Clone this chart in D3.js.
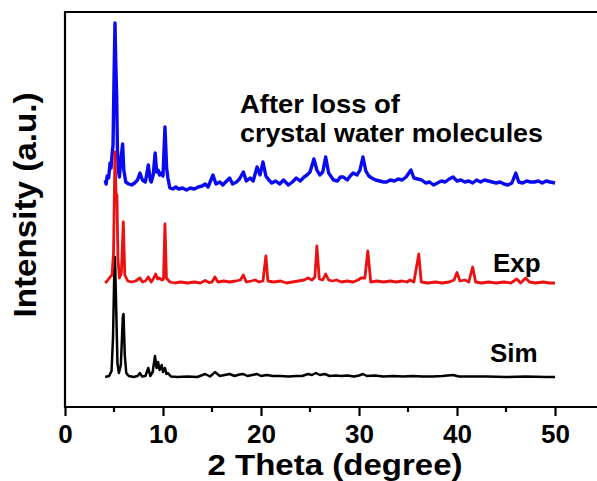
<!DOCTYPE html>
<html>
<head>
<meta charset="utf-8">
<script src="https://cdn.jsdelivr.net/npm/d3@7"></script>
<style>
  body { margin: 0; background: #fff; }
  text { font-family: Arial, "Liberation Sans", sans-serif; font-weight: bold; fill: #000; }
</style>
</head>
<body>
<div class="chart"></div>
<script>
// XRD patterns, [2theta, intensity] (a.u., baseline = 0)
var simData = [[4.1,0],[4.5,1],[4.75,6],[4.9,40],[5.05,115],[5.1,120],[5.2,80],[5.35,14],[5.5,4],[5.7,12],[5.9,60],[5.97,63],[6.1,22],[6.25,4],[6.5,1],[7.0,0],[7.4,1],[7.65,4],[7.85,0.5],[8.2,1],[8.5,9],[8.7,1],[8.95,5],[9.18,21],[9.35,9],[9.5,15],[9.65,7],[9.87,12],[10.0,5],[10.2,9],[10.35,3],[10.5,4],[10.8,0.5],[11.5,0],[12.5,0.5],[13.5,0],[14.3,3],[14.8,0.5],[15.1,3],[15.3,5],[15.8,1],[16.3,2],[16.8,3],[17.3,1],[17.8,2.5],[18.2,3],[18.6,1],[19.1,2],[19.6,3],[20.0,1],[20.6,2],[21.2,1],[22.0,1],[22.8,0.5],[23.6,1],[24.2,1],[24.8,3],[25.2,2],[25.6,4],[26.0,2],[26.5,3],[27.0,1],[27.6,1.5],[28.2,1],[28.8,1.5],[29.5,0.5],[30.0,1.5],[30.4,3],[30.8,1],[31.6,1.5],[32.5,0.5],[33.5,1],[34.5,0.5],[35.5,1],[36.5,0.5],[37.5,0.5],[38.5,1],[39.6,2],[40.2,0.5],[41.5,0.5],[43,0.5],[45,0],[47,0.5],[49,0],[50,0]];

var expData = [[4.1,0],[4.3,2],[4.6,6],[4.8,8],[4.95,30],[5.1,131],[5.2,90],[5.3,88],[5.4,25],[5.55,5],[5.75,10],[5.95,61],[6.1,8],[6.4,2],[6.8,1],[7.2,2],[7.65,5],[7.9,1],[8.2,2],[8.5,6],[8.8,1],[9.0,4],[9.25,9],[9.45,4],[9.6,5],[9.9,3],[10.05,4],[10.2,59],[10.35,5],[10.7,1],[11.2,0],[11.8,1],[12.5,0],[13.2,1],[13.8,0],[14.3,2.5],[14.7,0.5],[15.0,1],[15.3,6],[15.6,1],[16.2,2],[16.8,1],[17.4,2],[17.9,3],[18.2,8],[18.5,1],[19.0,2],[19.4,3],[19.8,1],[20.2,2],[20.5,27],[20.7,2],[21.3,1],[22.0,2],[22.6,0],[23.2,1],[23.8,2],[24.4,3],[24.8,5],[25.2,3],[25.5,6],[25.7,37],[25.95,4],[26.3,3],[26.6,9],[26.9,3],[27.3,2],[27.7,3],[28.2,1],[28.8,2],[29.4,1],[29.9,3],[30.2,5],[30.6,5],[30.9,32],[31.2,1],[31.8,2],[32.5,1],[33.2,2],[33.8,1],[34.4,2],[34.9,1],[35.2,3],[35.6,1],[36.1,29],[36.35,1],[37.0,0],[37.8,1],[38.5,0],[39.2,1],[39.7,3],[40.0,10.5],[40.3,2],[40.8,3],[41.2,1],[41.6,16],[41.9,1],[42.5,0],[43.2,1],[44.0,0],[44.8,1],[45.5,0],[46.1,4],[46.5,0],[47.0,5],[47.4,1],[48.0,0],[48.8,1],[49.4,0],[50.0,0]];

var afterData = [[4.1,10],[4.2,6],[4.3,14],[4.45,12],[4.6,27],[4.7,22],[4.8,35],[4.9,45],[5.0,110],[5.1,167],[5.2,120],[5.27,95],[5.35,40],[5.45,20],[5.55,13],[5.7,30],[5.88,46],[6.0,20],[6.2,8],[6.5,6],[6.8,5],[7.1,7],[7.4,10],[7.65,17],[7.9,10],[8.2,8],[8.5,25],[8.7,10],[8.8,8],[9.0,15],[9.2,37],[9.35,18],[9.5,20],[9.65,15],[9.8,17],[10.0,14],[10.2,63],[10.37,22],[10.5,12],[10.7,2],[11.0,1],[11.3,3],[11.6,1],[12.0,2],[12.4,0],[12.8,2],[13.2,1],[13.6,3],[14.0,4],[14.3,6],[14.6,3],[15.1,15],[15.4,6],[15.8,8],[16.1,5],[16.5,9],[16.8,12],[17.1,6],[17.5,8],[17.8,11],[18.2,18],[18.5,9],[18.9,12],[19.2,9],[19.6,23],[19.9,15],[20.2,28],[20.5,14],[20.8,10],[21.1,7],[21.5,9],[21.9,6],[22.3,10],[22.8,5],[23.2,8],[23.6,12],[24.0,9],[24.4,13],[24.7,15],[25.0,18],[25.4,31],[25.7,20],[26.0,15],[26.3,18],[26.6,33],[26.9,17],[27.4,10],[27.8,9],[28.1,13],[28.4,13],[28.8,10],[29.1,14],[29.4,17],[29.8,15],[30.1,20],[30.4,33],[30.7,19],[31.0,14],[31.3,12],[31.7,10],[32.1,9],[32.5,8],[32.8,8],[33.2,10],[33.6,9],[34.0,11],[34.4,10],[34.8,13],[35.3,20],[35.6,12],[36.0,11],[36.4,10],[36.8,7],[37.2,8],[37.6,5],[38.0,7],[38.4,9],[38.8,8],[39.2,11],[39.6,13],[40.0,9],[40.4,10],[40.8,8],[41.2,9],[41.6,7],[42.0,10],[42.4,8],[42.8,10],[43.2,9],[43.6,8],[44.0,7],[44.4,8],[44.8,6],[45.2,5],[45.6,7],[46.0,17],[46.3,8],[46.7,7],[47.1,9],[47.5,8],[47.9,8],[48.3,9],[48.7,7],[49.1,9],[49.5,8],[50.0,7]];

// vertical stacking offsets of the three patterns
var offsets = { sim: 30, exp: 124, after: 217 };

var xTicks = [0, 10, 20, 30, 40, 50];
var xMinorTicks = [5, 15, 25, 35, 45];

var W = 597, H = 481;
var mLeft = 65, mRight = 555, mTop = 12, mBottom = 407;

var svg = d3.select(".chart").append("svg")
    .attr("width", W)
    .attr("height", H);

var x = d3.scaleLinear().domain([0, 50]).range([mLeft, mRight]);
var y = d3.scaleLinear().domain([0, 395]).range([mBottom, mTop]);

function drawPattern(data, off, color, width) {
    var line = d3.line()
        .x(function(d) { return x(d[0]); })
        .y(function(d) { return y(d[1] + off); });
    svg.append("path")
        .datum(data)
        .attr("d", line)
        .attr("fill", "none")
        .attr("stroke", color)
        .attr("stroke-width", width)
        .attr("stroke-linejoin", "round");
}

drawPattern(afterData, offsets.after, "#0a0af0", 3.4);
drawPattern(simData, offsets.sim, "#000", 2.5);
drawPattern(expData, offsets.exp, "#ec1010", 2.8);

// frame: left and top lines
svg.append("line")
    .attr("x1", mLeft).attr("x2", mLeft)
    .attr("y1", mTop).attr("y2", mBottom)
    .attr("stroke", "#000").attr("stroke-width", 2.2);
svg.append("line")
    .attr("x1", mLeft - 1).attr("x2", W)
    .attr("y1", mTop).attr("y2", mTop)
    .attr("stroke", "#000").attr("stroke-width", 2.2);

// bottom axis
var xAxis = svg.append("g")
    .attr("transform", "translate(0," + mBottom + ")")
    .call(d3.axisBottom(x).tickValues(xTicks).tickSize(9).tickSizeOuter(0).tickFormat(d3.format("d")));
xAxis.select(".domain").attr("stroke-width", 2.2).attr("d", "M" + (mLeft - 1) + ",0H" + W);
xAxis.selectAll(".tick line").attr("stroke-width", 2.2);
xAxis.selectAll(".tick text")
    .attr("y", 36)
    .attr("dy", null)
    .style("font-size", "26px")
    .style("font-family", "Arial, 'Liberation Sans', sans-serif")
    .style("font-weight", "bold");

svg.append("g").selectAll("line")
    .data(xMinorTicks)
    .enter().append("line")
    .attr("x1", function(d) { return x(d); })
    .attr("x2", function(d) { return x(d); })
    .attr("y1", mBottom)
    .attr("y2", mBottom + 5)
    .attr("stroke", "#000")
    .attr("stroke-width", 2.2);

// axis titles
svg.append("text")
    .attr("x", 335)
    .attr("y", 475)
    .attr("text-anchor", "middle")
    .attr("textLength", 255)
    .attr("lengthAdjust", "spacingAndGlyphs")
    .style("font-size", "29px")
    .text("2 Theta (degree)");

svg.append("text")
    .attr("transform", "translate(36,205) rotate(-90)")
    .attr("text-anchor", "middle")
    .attr("textLength", 225)
    .attr("lengthAdjust", "spacingAndGlyphs")
    .style("font-size", "32px")
    .text("Intensity (a.u.)");

// annotations
svg.append("text").attr("x", 240).attr("y", 113).attr("textLength", 160).attr("lengthAdjust", "spacingAndGlyphs")
    .style("font-size", "26px").text("After loss of");
svg.append("text").attr("x", 240).attr("y", 142).attr("textLength", 303).attr("lengthAdjust", "spacingAndGlyphs")
    .style("font-size", "26px").text("crystal water molecules");
svg.append("text").attr("x", 493).attr("y", 272).style("font-size", "26px").text("Exp");
svg.append("text").attr("x", 490).attr("y", 362).style("font-size", "26px").text("Sim");
</script>
</body>
</html>
